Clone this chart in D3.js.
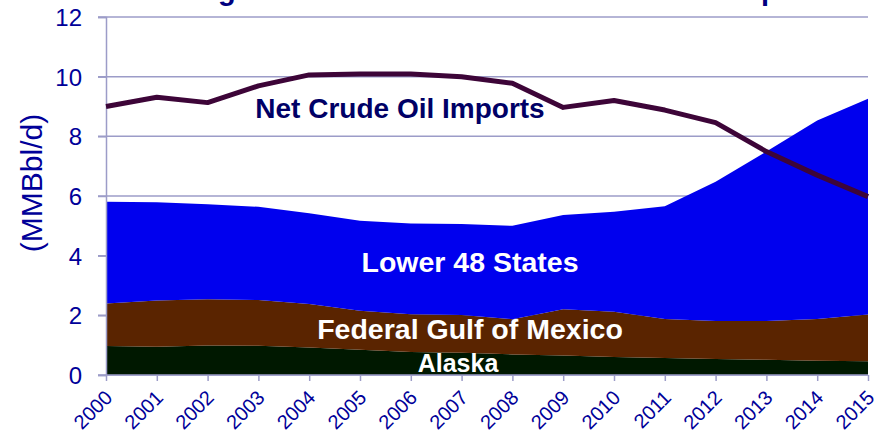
<!DOCTYPE html>
<html>
<head>
<meta charset="utf-8">
<script src="https://cdn.jsdelivr.net/npm/d3@7"></script>
<style>
  html, body { margin: 0; padding: 0; background: #ffffff; }
  svg { display: block; font-family: "Liberation Sans", Arial, sans-serif; }
</style>
</head>
<body>
<svg id="chart" width="884" height="437"></svg>
<script>
// ---- data (MMBbl/d) ----
const years = [2000, 2001, 2002, 2003, 2004, 2005, 2006, 2007, 2008, 2009, 2010, 2011, 2012, 2013, 2014, 2015];
const alaska = [0.97, 0.95, 0.99, 0.98, 0.92, 0.85, 0.77, 0.75, 0.69, 0.65, 0.60, 0.57, 0.54, 0.51, 0.48, 0.46];
const federalGulf = [1.43, 1.55, 1.55, 1.53, 1.46, 1.30, 1.27, 1.26, 1.18, 1.55, 1.52, 1.31, 1.27, 1.30, 1.40, 1.57];
const lower48 = [3.41, 3.29, 3.18, 3.13, 3.04, 3.02, 3.04, 3.05, 3.13, 3.16, 3.35, 3.78, 4.67, 5.68, 6.65, 7.23];
const netImports = [9.00, 9.31, 9.13, 9.69, 10.06, 10.09, 10.09, 10.00, 9.78, 8.97, 9.20, 8.88, 8.46, 7.49, 6.70, 5.98];
const yTicks = [0, 2, 4, 6, 8, 10, 12];
const seriesNames = ["Alaska", "Federal Gulf of Mexico", "Lower 48 States"];
const titleText = "Rising Domestic Production Reduces Net Imports";
const yAxisTitle = "(MMBbl/d)";
const lineLabel = "Net Crude Oil Imports";

const table = years.map((y, i) => ({
  year: y,
  "Alaska": alaska[i],
  "Federal Gulf of Mexico": federalGulf[i],
  "Lower 48 States": lower48[i],
  imports: netImports[i]
}));

const svg = d3.select("#chart");
const x = d3.scaleLinear().domain([2000, 2015]).range([106, 868]);
const y = d3.scaleLinear().domain([0, 12]).range([375, 17]);

const gridColor = "#9c9cc8";
const tickColor = "#000099";
const colors = { "Alaska": "#001800", "Federal Gulf of Mexico": "#5a2400", "Lower 48 States": "#0000ee" };

// title: as in the reference, only its descenders fall inside the picture
svg.append("text")
  .attr("x", 147).attr("y", 0)
  .attr("font-size", 29).attr("font-weight", "bold")
  .attr("fill", "#000080")
  .text(titleText);

// gridlines
svg.append("g")
  .selectAll("line")
  .data(yTicks)
  .join("line")
  .attr("x1", 98).attr("x2", 868)
  .attr("y1", d => y(d)).attr("y2", d => y(d))
  .attr("stroke", gridColor).attr("stroke-width", 1.5);

// stacked areas
const stack = d3.stack().keys(seriesNames);
const stacked = stack(table);
const area = d3.area()
  .x(d => x(d.data.year))
  .y0(d => y(d[0]))
  .y1(d => y(d[1]));

svg.append("g")
  .selectAll("path")
  .data(stacked)
  .join("path")
  .attr("d", area)
  .attr("fill", d => colors[d.key]);

// y axis
const yAxis = d3.axisLeft(y).tickValues(yTicks).tickSize(8).tickPadding(16);
const gy = svg.append("g").attr("transform", "translate(106,0)").call(yAxis);
gy.select(".domain").attr("stroke", gridColor).attr("stroke-width", 1.5);
gy.selectAll(".tick line").attr("stroke", gridColor).attr("stroke-width", 1.5);
gy.selectAll(".tick text")
  .attr("fill", tickColor)
  .attr("font-size", 24)
  .attr("font-family", "Liberation Sans, Arial, sans-serif")
  .attr("dy", "0.36em");

// x axis
const xAxis = d3.axisBottom(x).tickValues(years).tickFormat(d3.format("d")).tickSize(6);
const gx = svg.append("g").attr("transform", "translate(0,375)").call(xAxis);
gx.select(".domain").attr("stroke", gridColor).attr("stroke-width", 1.5).attr("d", "M106,0H868");
gx.selectAll(".tick line").attr("stroke", gridColor).attr("stroke-width", 1.5);
gx.selectAll(".tick text")
  .attr("fill", tickColor)
  .attr("font-size", 20)
  .attr("font-family", "Liberation Sans, Arial, sans-serif")
  .attr("text-anchor", "end")
  .attr("dy", 0)
  .attr("y", 0)
  .attr("transform", "translate(7,24) rotate(-45)");

// y axis title
svg.append("text")
  .attr("transform", "translate(42,183) rotate(-90)")
  .attr("text-anchor", "middle")
  .attr("font-size", 30)
  .attr("fill", tickColor)
  .text(yAxisTitle);

// imports line
const line = d3.line().x(d => x(d.year)).y(d => y(d.imports));
svg.append("path")
  .datum(table)
  .attr("d", line)
  .attr("fill", "none")
  .attr("stroke", "#3d0538")
  .attr("stroke-width", 5)
  .attr("stroke-linejoin", "round");

// labels
const labels = [
  { text: lineLabel, cx: 400, by: 118, size: 28, color: "#000066" },
  { text: seriesNames[2], cx: 470, by: 272, size: 28.5, color: "#ffffff" },
  { text: seriesNames[1], cx: 470, by: 339, size: 28.5, color: "#ffffff" },
  { text: seriesNames[0], cx: 458, by: 372, size: 25, color: "#ffffff" }
];
svg.append("g")
  .selectAll("text")
  .data(labels)
  .join("text")
  .attr("x", d => d.cx).attr("y", d => d.by)
  .attr("text-anchor", "middle")
  .attr("font-weight", "bold")
  .attr("font-size", d => d.size)
  .attr("fill", d => d.color)
  .text(d => d.text);
</script>
</body>
</html>
